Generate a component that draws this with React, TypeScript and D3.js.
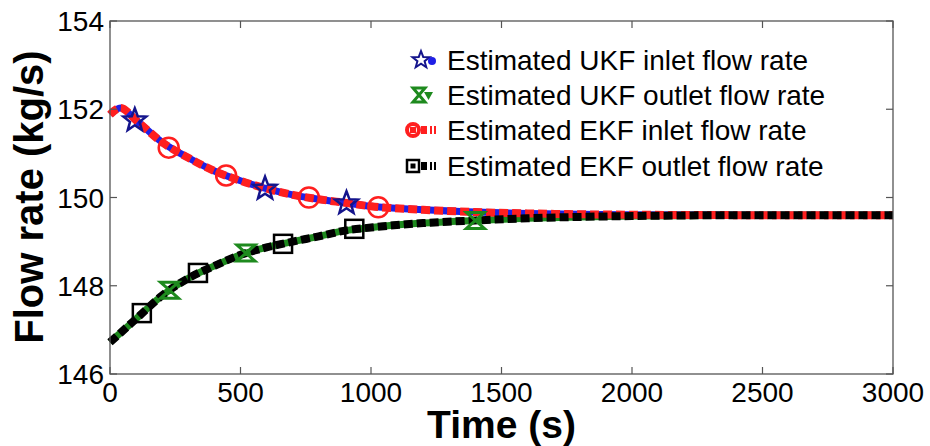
import React from 'react';
import * as d3 from 'd3';

// ---- data ----
const timeS = [0, 40, 100, 200, 300, 400, 500, 600, 700, 800, 900, 1000, 1200, 1400, 1600, 1800, 2000, 2500, 3000];
const ukfInlet = [151.88, 152.03, 151.75, 151.25, 150.9, 150.6, 150.38, 150.2, 150.06, 149.96, 149.88, 149.8, 149.72, 149.67, 149.64, 149.62, 149.61, 149.6, 149.6];
const ekfInlet = [151.88, 152.03, 151.75, 151.25, 150.9, 150.6, 150.38, 150.2, 150.06, 149.96, 149.88, 149.8, 149.72, 149.67, 149.64, 149.62, 149.61, 149.6, 149.6];
const ukfOutlet = [146.72, 146.93, 147.25, 147.78, 148.17, 148.45, 148.7, 148.87, 149.0, 149.12, 149.25, 149.32, 149.42, 149.48, 149.53, 149.56, 149.58, 149.6, 149.6];
const ekfOutlet = [146.72, 146.93, 147.25, 147.78, 148.17, 148.45, 148.7, 148.87, 149.0, 149.12, 149.25, 149.32, 149.42, 149.48, 149.53, 149.56, 149.58, 149.6, 149.6];

const ukfInletMarkT = [95, 594, 906];
const ukfInletMarkV = [151.75, 150.2, 149.87];
const ekfInletMarkT = [225, 445, 762, 1028];
const ekfInletMarkV = [151.13, 150.5, 150.0, 149.78];
const ukfOutletMarkT = [228, 521, 1400];
const ukfOutletMarkV = [147.9, 148.74, 149.48];
const ekfOutletMarkT = [122, 337, 663, 936];
const ekfOutletMarkV = [147.38, 148.29, 148.95, 149.29];

const xTicks = [0, 500, 1000, 1500, 2000, 2500, 3000];
const yTicks = [146, 148, 150, 152, 154];
const legendLabels = [
  'Estimated UKF inlet flow rate',
  'Estimated UKF outlet flow rate',
  'Estimated EKF inlet flow rate',
  'Estimated EKF outlet flow rate',
];

// ---- layout ----
const W = 930, H = 446;
const L = 110, R = 893, T = 21, B = 374;
const BLUE = '#1f1fe6', NAVY = '#14148c', GREEN = '#1e8a1e', RED = '#ff1f1f', BLACK = '#000';
const FONT = '"Liberation Sans", Arial, Helvetica, sans-serif';

const x = d3.scaleLinear().domain([0, 3000]).range([L, R]);
const y = d3.scaleLinear().domain([146, 154]).range([B, T]);

function starPath(R0: number) {
  const r0 = R0 * 0.42;
  const pts: string[] = [];
  for (let i = 0; i < 10; i++) {
    const a = -Math.PI / 2 + (i * Math.PI) / 5;
    const rr = i % 2 === 0 ? R0 : r0;
    pts.push(`${(rr * Math.cos(a)).toFixed(2)},${(rr * Math.sin(a)).toFixed(2)}`);
  }
  return 'M' + pts.join('L') + 'Z';
}
function hourglass(w: number, h: number) {
  return `M${-w},${-h}L${w},${-h}L0,0L${w},${h}L${-w},${h}L0,0Z`;
}

const lineGen = (vals: number[]) =>
  d3.line<number>().x((_, i) => x(timeS[i])).y((v) => y(v)).curve(d3.curveMonotoneX)(vals) || '';

export default function App() {
  const legendY = [60, 95, 130, 166];
  return (
    <svg width={W} height={H} style={{ position: 'absolute', left: 0, top: 0, background: '#fff' }} fontFamily={FONT}>
      <rect x={0} y={0} width={W} height={H} fill="#fff" />
      <defs>
        <clipPath id="plotclip">
          <rect x={L - 4} y={T} width={R - L + 8} height={B - T} />
        </clipPath>
      </defs>
      {/* lines */}
      <g clipPath="url(#plotclip)" fill="none" strokeLinejoin="round">
        <path d={lineGen(ukfInlet)} stroke={BLUE} strokeWidth={7} />
        <path d={lineGen(ukfOutlet)} stroke={GREEN} strokeWidth={7} />
        <path d={lineGen(ekfInlet)} stroke={RED} strokeWidth={8} strokeDasharray="9,4" />
        <path d={lineGen(ekfOutlet)} stroke={BLACK} strokeWidth={8} strokeDasharray="9,4" />
      </g>
      {/* markers */}
      <g fill="none" strokeWidth={2.5}>
        {ukfInletMarkT.map((t, i) => (
          <path key={'s' + i} d={starPath(12)} transform={`translate(${x(t)},${y(ukfInletMarkV[i])})`} stroke={NAVY} />
        ))}
        {ukfOutletMarkT.map((t, i) => (
          <path key={'h' + i} d={hourglass(9, 8)} transform={`translate(${x(t)},${y(ukfOutletMarkV[i])})`} stroke={GREEN} strokeWidth={3} />
        ))}
        {ekfInletMarkT.map((t, i) => (
          <circle key={'c' + i} cx={x(t)} cy={y(ekfInletMarkV[i])} r={10} stroke={RED} />
        ))}
        {ekfOutletMarkT.map((t, i) => (
          <rect key={'q' + i} x={x(t) - 9} y={y(ekfOutletMarkV[i]) - 9} width={18} height={18} stroke={BLACK} />
        ))}
      </g>
      {/* axes box */}
      <rect x={L} y={T} width={R - L} height={B - T} fill="none" stroke="#555" strokeWidth={1.3} />
      {xTicks.map((t) => (
        <g key={'xt' + t}>
          <line x1={x(t)} x2={x(t)} y1={B} y2={B - 7} stroke="#555" strokeWidth={1.2} />
          <line x1={x(t)} x2={x(t)} y1={T} y2={T + 7} stroke="#555" strokeWidth={1.2} />
          <text x={x(t)} y={402} textAnchor="middle" fontSize={28} fill="#000">{t}</text>
        </g>
      ))}
      {yTicks.map((v) => (
        <g key={'yt' + v}>
          <line x1={L} x2={L + 7} y1={y(v)} y2={y(v)} stroke="#555" strokeWidth={1.2} />
          <line x1={R} x2={R - 7} y1={y(v)} y2={y(v)} stroke="#555" strokeWidth={1.2} />
          <text x={104} y={y(v)} dy="0.36em" textAnchor="end" fontSize={28} fill="#000">{v}</text>
        </g>
      ))}
      {/* axis titles */}
      <text x={(L + R) / 2} y={438} textAnchor="middle" fontSize={39} fontWeight="bold" fill="#000">Time (s)</text>
      <text transform={`translate(43,197) rotate(-90)`} textAnchor="middle" fontSize={40} fontWeight="bold" fill="#000">Flow rate (kg/s)</text>
      {/* legend */}
      <g>
        {legendLabels.map((lab, i) => (
          <text key={'lt' + i} x={447} y={legendY[i]} dy="0.36em" fontSize={28} fill="#000">{lab}</text>
        ))}
        {/* row 1 */}
        <path d={starPath(9)} transform={`translate(421,${legendY[0]})`} fill="none" stroke={NAVY} strokeWidth={2} />
        <circle cx={432} cy={legendY[0] + 1} r={4} fill={BLUE} />
        {/* row 2 */}
        <path d={hourglass(6, 7)} transform={`translate(419,${legendY[1]})`} fill="none" stroke={GREEN} strokeWidth={3} />
        <path d={`M${424},${legendY[1] - 3}L${433},${legendY[1] - 3}L${428.5},${legendY[1] + 5}Z`} fill={GREEN} />
        {/* row 3 */}
        <circle cx={413} cy={legendY[2]} r={6} fill="none" stroke={RED} strokeWidth={4} />
        <rect x={410} y={legendY[2] - 3} width={6} height={6} fill={RED} />
        <rect x={421} y={legendY[2] - 4} width={6} height={8} fill={RED} />
        <rect x={430} y={legendY[2] - 4} width={2} height={8} fill={RED} />
        <rect x={434} y={legendY[2] - 4} width={2} height={8} fill={RED} />
        {/* row 4 */}
        <rect x={407} y={legendY[3] - 6} width={12} height={12} fill="none" stroke={BLACK} strokeWidth={2.5} />
        <rect x={410.5} y={legendY[3] - 2.5} width={5} height={5} fill={BLACK} />
        <rect x={421} y={legendY[3] - 4} width={6} height={8} fill={BLACK} />
        <rect x={430} y={legendY[3] - 4} width={2} height={8} fill={BLACK} />
        <rect x={434} y={legendY[3] - 4} width={2} height={8} fill={BLACK} />
      </g>
    </svg>
  );
}
